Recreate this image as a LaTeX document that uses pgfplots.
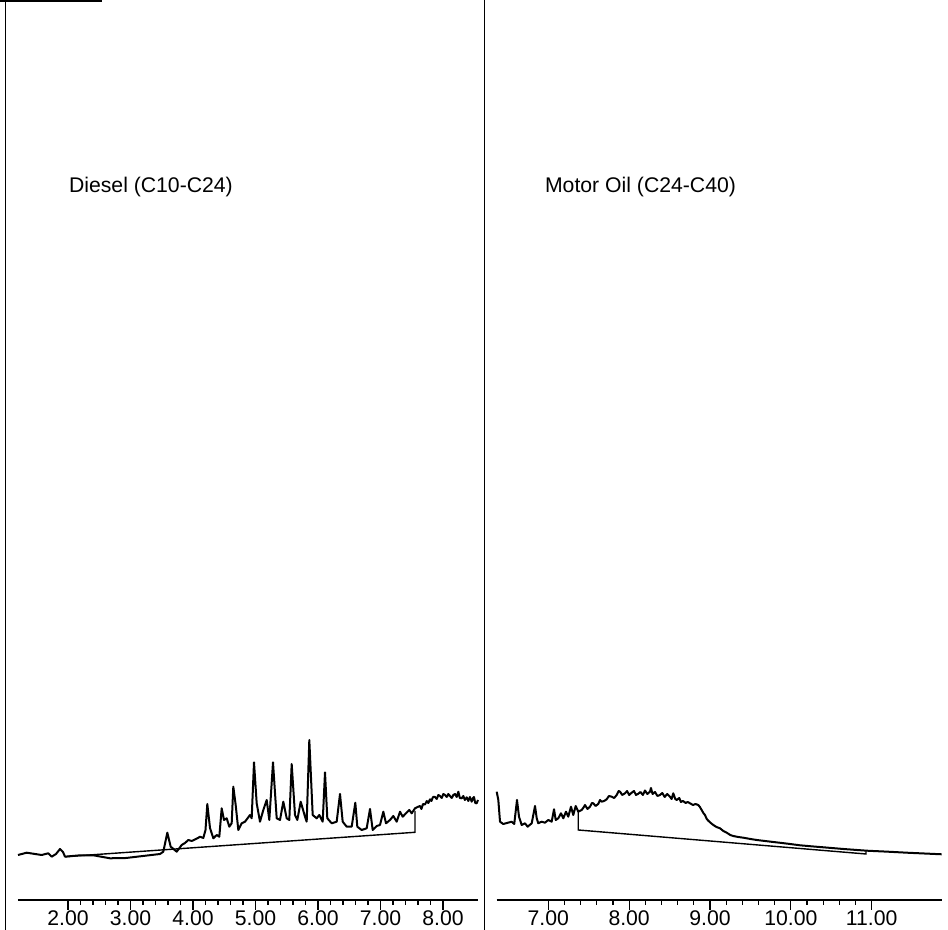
\documentclass[border=0pt]{standalone}
\usepackage{fontspec}
\setmainfont{Liberation Sans}
\usepackage{pgfplots}
\pgfplotsset{compat=1.18}
\pgfplotstableread{
x y
1.200 45
1.339 47.3
1.472 46
1.579 45
1.685 46.7
1.739 43.3
1.808 46
1.872 51
1.920 48
1.952 43.3
2.160 44.5
2.405 44.7
2.672 41.7
2.928 42
3.200 44
3.472 46
3.525 48.3
3.589 67.3
3.643 53.3
3.688 51
3.739 48.3
3.819 55
3.872 57
3.925 60
3.980 59
4.032 60.5
4.080 62
4.112 63.3
4.165 62
4.200 70
4.229 96
4.272 72
4.325 61.7
4.379 65
4.421 63.3
4.459 91.7
4.496 80
4.539 81.7
4.581 73.3
4.619 76.7
4.645 113.3
4.683 95
4.725 70
4.779 76.7
4.832 78.3
4.912 85
4.939 81.7
4.976 137.7
5.019 96.7
5.072 78.3
5.125 90
5.179 100
5.221 80
5.280 137.7
5.339 81.7
5.392 80
5.445 98.3
5.499 81.7
5.541 80
5.579 136
5.632 85
5.669 80
5.723 98.3
5.792 83.3
5.819 78.3
5.861 160
5.915 85
5.979 81.7
6.021 85
6.075 78.3
6.112 127.7
6.149 81.7
6.219 76.7
6.299 78.3
6.352 106
6.395 78.3
6.459 73.3
6.539 73.3
6.597 97.3
6.629 73.3
6.699 70
6.779 71.7
6.832 91
6.875 70
6.939 74
6.992 75
7.045 88.3
7.088 76.7
7.152 80
7.205 84
7.259 78.3
7.312 88.3
7.355 83.3
7.408 86.7
7.461 90
7.499 86.7
7.552 91.7
7.592 93
7.632 94
7.655 91
7.680 96
7.712 95.5
7.740 99
7.765 97
7.792 100.7
7.815 99
7.840 103
7.872 103
7.900 101
7.925 105
7.952 104
7.980 102
8.005 106
8.032 105
8.060 103
8.085 106
8.112 104
8.140 102
8.165 105
8.192 106
8.220 103
8.245 108.3
8.270 102
8.299 101.7
8.325 104
8.350 100
8.379 102.7
8.405 99
8.430 103
8.459 98.3
8.480 102
8.496 103
8.515 97
8.539 96.7
8.560 100
}\diesel
\pgfplotstableread{
x y
1.952 43.3
7.552 67.7
7.552 89
}\dieselbase
\pgfplotstableread{
x y
6.362 108.3
6.382 100
6.403 78.3
6.443 76
6.489 77
6.547 78.3
6.579 76
6.613 100
6.638 83.3
6.671 75
6.712 76.7
6.745 73.3
6.795 76.7
6.836 94
6.857 81.7
6.876 76.7
6.918 78.3
6.959 77.3
7.000 80
7.042 78.3
7.071 90.7
7.092 80
7.124 81.7
7.157 86.7
7.186 81.7
7.219 88.3
7.247 83.3
7.281 93.3
7.309 85
7.339 94
7.371 88.3
7.413 90
7.440 93
7.454 95
7.485 91
7.516 93.3
7.540 97
7.557 96.7
7.585 94
7.618 96
7.640 100
7.660 98.3
7.690 99
7.722 100.7
7.750 104
7.784 103.3
7.815 102
7.846 105
7.870 109
7.887 108.3
7.915 105
7.949 106.7
7.975 109
8.000 105
8.032 107.3
8.060 109
8.085 105
8.109 106
8.140 108
8.170 105
8.196 109.5
8.225 106
8.258 108.3
8.270 112
8.290 106
8.320 108
8.350 104
8.382 105
8.410 107
8.440 103
8.470 106
8.505 103.3
8.525 101
8.546 106.7
8.570 101
8.588 100
8.620 102
8.640 98
8.666 99
8.700 97
8.725 98
8.753 96.7
8.790 95
8.820 96
8.855 95
8.875 93
8.897 90
8.918 87
8.938 85
8.960 81
8.979 79.3
9.010 77
9.041 75
9.080 73
9.124 71.7
9.165 69
9.207 67.3
9.250 65
9.288 64
9.350 63
9.412 62.3
9.500 61
9.578 60
9.680 59
9.783 58
9.890 57
9.990 56
10.113 54.7
10.250 53.7
10.401 52.7
10.650 51
10.938 49.3
11.200 48.3
11.433 47.3
11.650 46.5
11.866 45.7
}\motoroil
\pgfplotstableread{
x y
7.371 88.3
7.371 70
10.930 46
10.930 49.3
}\motorbase
\begin{document}
\begin{tikzpicture}
\path[use as bounding box] (0,0) rectangle (474pt,465pt);
\pgfplotsset{
  chrom/.style={
    scale only axis,
    height=450pt,
    ymin=0, ymax=900,
    axis x line=bottom,
    axis y line=none,
    x axis line style={-, line width=0.9pt},
    tick align=outside,
    major tick length=5pt,
    minor tick length=2.5pt,
    minor x tick num=4,
    xtick style={line width=0.6pt, black},
    xtick distance=1,
    clip=false,
    tick label style={font=\fontsize{10.6}{12}\selectfont},
    xticklabel style={anchor=base, inner sep=0pt, outer sep=0pt, yshift=-8pt,
      /pgf/number format/.cd, fixed, fixed zerofill, precision=2, assume math mode=true},
  }
}
\begin{axis}[chrom, at={(9pt,15pt)}, anchor=south west, width=230pt,
  xmin=1.2, xmax=8.56, xtick={2,3,4,5,6,7,8}]
\addplot[black, line width=1pt, line join=round] table {\diesel};
\addplot[black, line width=0.7pt] table {\dieselbase};
\node[anchor=base west, font=\fontsize{10.6}{12}\selectfont] at (axis cs:1.904,707) {Diesel (C10-C24)};
\end{axis}
\begin{axis}[chrom, at={(248.35pt,15pt)}, anchor=south west, width=222.5pt,
  xmin=6.362, xmax=11.866, xtick={7,8,9,10,11}]
\addplot[black, line width=1pt, line join=round] table {\motoroil};
\addplot[black, line width=0.7pt] table {\motorbase};
\node[anchor=base west, font=\fontsize{10.6}{12}\selectfont] at (axis cs:6.873,707) {Motor Oil (C24-C40)};
\end{axis}
\draw[line width=0.8pt] (2.75pt,0) -- (2.75pt,465pt);
\draw[line width=0.8pt] (242.25pt,0) -- (242.25pt,465pt);
\draw[line width=0.8pt] (0,464.6pt) -- (51pt,464.6pt);
\end{tikzpicture}
\end{document}
